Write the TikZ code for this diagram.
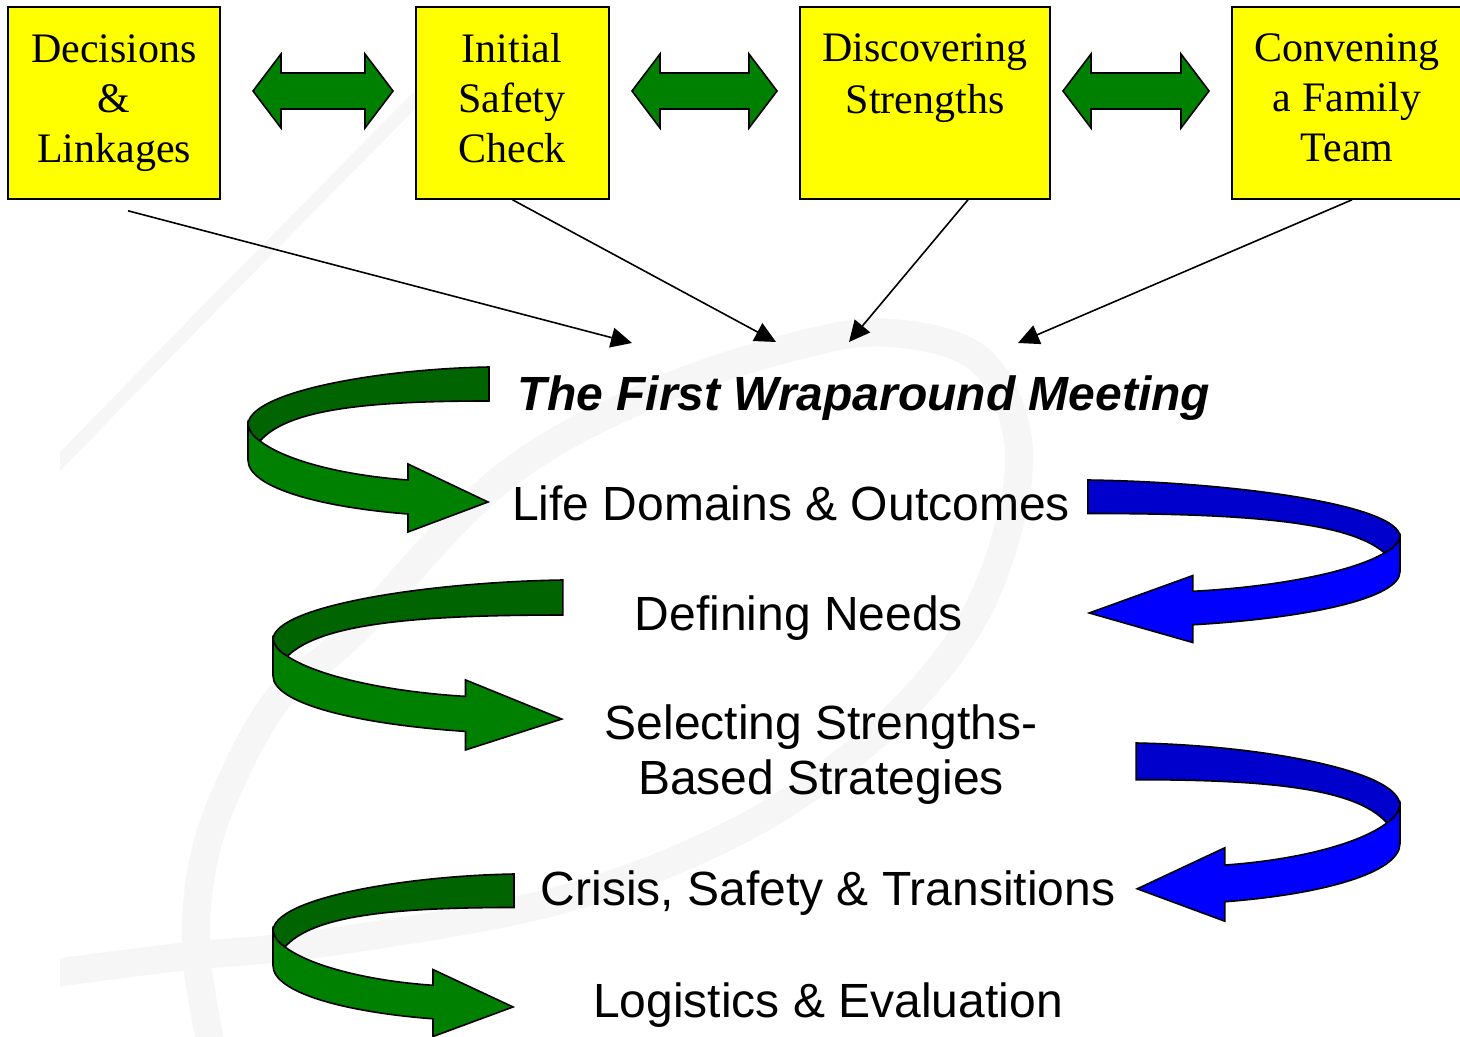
\documentclass[tikz,border=0pt]{standalone}
\usepackage{fontspec}
\setmainfont{Liberation Serif}
\setsansfont{Liberation Sans}
\usetikzlibrary{arrows.meta}

\definecolor{boxyellow}{RGB}{255,255,0}
\definecolor{gback}{RGB}{0,100,0}
\definecolor{gfront}{RGB}{0,128,0}
\definecolor{bback}{RGB}{0,0,204}
\definecolor{bfront}{RGB}{0,0,255}
\definecolor{twowaygreen}{RGB}{0,128,0}
\definecolor{swirlgrey}{RGB}{245,246,245}

\begin{document}
\begin{tikzpicture}[x=0.5pt,y=-0.5pt,
  box/.style={draw=black, line width=0.8pt, fill=boxyellow, minimum height=96pt, inner sep=0pt},
  boxtext/.style={font=\fontsize{21}{25}\selectfont, align=center, inner sep=0pt},
  stage/.style={font=\sffamily\fontsize{24}{27.5}\selectfont, align=center, inner sep=0pt},
  feed/.style={line width=0.8pt, -{Triangle[length=10.5pt,width=10pt]}},
  ribbon edge/.style={draw=black, line width=0.8pt},
  swirl/.style={draw=swirlgrey, line cap=butt},
  pics/ribbon/.style 2 args={code={
    % inner face of the band, seen at the back
    \filldraw[fill=#1, ribbon edge] (241,0) .. controls (130,2) and (0,25) .. (0,58)
      .. controls (2,66) and (6,70) .. (12,74)
      .. controls (40,42) and (120,34) .. (241,34) -- cycle;
    % outer face of the band, ending in the arrow head
    \filldraw[fill=#2, ribbon edge] (0,58) -- (0,93)
      .. controls (0,120) and (70,140) .. (160,147)
      -- (160,165) -- (240,135) -- (160,97) -- (160,113)
      .. controls (90,108) and (35,92) .. (12,74)
      .. controls (6,70) and (2,66) .. (0,58) -- cycle;
  }},
  pics/twoway/.style={code={
    \filldraw[fill=twowaygreen, ribbon edge] (0,0) -- (28,-37) -- (28,-18)
      -- (#1-28,-18) -- (#1-28,-37) -- (#1,0) -- (#1-28,37) -- (#1-28,18)
      -- (28,18) -- (28,37) -- cycle;
  }}
]
\useasboundingbox (0,0) rectangle (1460,1037);
\fill[white] (0,0) rectangle (1460,1037);

% faint watermark swirl
\begin{scope}
  \clip (60,0) rectangle (1460,1037);
  \draw[swirl, line width=14pt] plot[smooth, tension=0.6] coordinates {
    (212,1050) (197,960) (200,880) (223,800) (277,700) (353,633) (500,480)
    (650,395) (800,345) (893,333) (980,360) (1018,440) (1005,540) (960,640)
    (870,740) (740,830) (560,900) (330,942) (180,957) (40,975)};
  \draw[swirl, line width=6.5pt] plot[smooth, tension=0.6] coordinates {
    (50,472) (200,318) (407,108) (480,35)};
\end{scope}

% process boxes
\node[box, minimum width=106pt] (b1) at (114,103) {};
\node[box, minimum width=96.5pt] (b2) at (512.5,103) {};
\node[box, minimum width=125pt] (b3) at (925,103) {};
\node[box, minimum width=115pt] (b4) at (1347,103) {};

\node[boxtext] (t1) at (114,103) {Decisions\\\&\\Linkages};
\node[boxtext] (t2) at (512,98) {Initial\\Safety\\Check};
\node[boxtext, font=\fontsize{21}{26}\selectfont] (t3) at (925,78) {Discovering\\Strengths};
\node[boxtext] (t4) at (1347,98) {Convening\\a Family\\Team};

% two-way links between neighbouring boxes
\pic at (253,91) {twoway=140};
\pic at (632,91) {twoway=145};
\pic at (1063,91) {twoway=146};

% meeting stages
\node[stage, anchor=base, font=\sffamily\bfseries\itshape\fontsize{24}{28}\selectfont]
  (mtg) at (864,410) {The First Wraparound Meeting};
\node[stage, anchor=base] (s1) at (791,520) {Life Domains \& Outcomes};
\node[stage, anchor=base] (s2) at (799,630) {Defining Needs};
\node[stage] (s3) at (821,755) {Selecting Strengths-\\Based Strategies};
\node[stage, anchor=base] (s4) at (828,905) {Crisis, Safety \& Transitions};
\node[stage, anchor=base] (s5) at (828,1017) {Logistics \& Evaluation};

% feeds from the boxes into the meeting
\coordinate (m1) at (632,343);
\coordinate (m2) at (776,342);
\coordinate (m3) at (849,342);
\coordinate (m4) at (1018,343);
\draw[feed] ([shift={(14,11)}]b1.south) -- (m1);
\draw[feed] (b2.south) -- (m2);
\draw[feed] ([shift={(43,0)}]b3.south) -- (m3);
\draw[feed] ([shift={(5,0)}]b4.south) -- (m4);

% spiral arrows leading from stage to stage
\pic[shift={(248,367)}] {ribbon={gback}{gfront}};
\pic[shift={(1400,480)}, xscale=-1.295, yscale=0.985] {ribbon={bback}{bfront}};
\pic[shift={(273,580)}, xscale=1.203, yscale=1.03] {ribbon={gback}{gfront}};
\pic[shift={(1400,743)}, xscale=-1.095, yscale=1.08] {ribbon={bback}{bfront}};
\pic[shift={(273,874)}, yscale=0.985] {ribbon={gback}{gfront}};
\end{tikzpicture}
\end{document}
